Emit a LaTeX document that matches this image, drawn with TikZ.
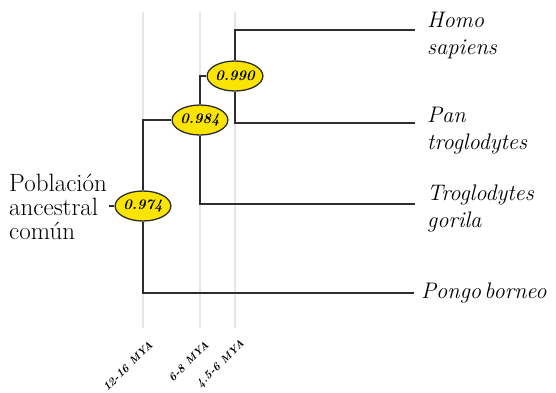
\documentclass[tikz,border=0pt]{standalone}
\usepackage{fontspec}
\usetikzlibrary{shapes.geometric,backgrounds}
\definecolor{nodeyellow}{RGB}{250,228,0}
\definecolor{treegray}{RGB}{45,45,45}
\definecolor{guidegray}{RGB}{230,230,230}
\tikzset{
  tree/.style={draw=treegray, line width=2pt},
  guide/.style={draw=guidegray, line width=1.5pt},
  prob/.style={ellipse, draw=treegray, line width=1.3pt, fill=nodeyellow,
    minimum width=43pt, minimum height=30pt, inner sep=0pt,
    font=\fontsize{14.5}{16}\selectfont\bfseries\itshape},
  leaf/.style={anchor=base west, inner sep=0pt,
    font=\fontsize{22.5}{27}\selectfont\itshape},
  mya/.style={anchor=east, rotate=45, inner sep=0pt,
    font=\fontsize{11.5}{14}\selectfont\bfseries\itshape}
}
\newcommand{\mycaps}{\fontsize{10.5}{12}\selectfont}
\begin{document}
\begin{tikzpicture}[x=1pt,y=-1pt]
\useasboundingbox (0,0) rectangle (556,392);
% internal nodes
\node[prob] (n974) at (143,206) {0.974};
\node[prob] (n984) at (200,120) {0.984};
\node[prob] (n990) at (235,76) {0.990};
% leaf labels
\node[leaf] (homo) at (427,27) {\begin{tabular}[t]{@{}l@{}}Homo\\sapiens\end{tabular}};
\node[leaf] (pan) at (427,122) {\begin{tabular}[t]{@{}l@{}}Pan\\troglodytes\end{tabular}};
\node[leaf] (gor) at (427,200) {\begin{tabular}[t]{@{}l@{}}Troglodytes\\gorila\end{tabular}};
\node[leaf] (pongo) at (421,298) {Pongo\hspace{0.15em}borneo};
% root label
\node[anchor=base west, inner sep=0pt, font=\fontsize{25}{22.7}\selectfont] (anc) at (9,191)
  {\begin{tabular}[t]{@{}l@{}}Población\\ancestral\\común\end{tabular}};
% line ends
\coordinate (hEnd) at (415,30);
\coordinate (ptEnd) at (415,123);
\coordinate (gEnd) at (415,204);
\coordinate (pEnd) at (414,293);
\coordinate (stub) at (109,206);
% guide lines
\coordinate (g1t) at (143,12); \coordinate (g1b) at (143,328);
\coordinate (g2t) at (200,12); \coordinate (g2b) at (200,328);
\coordinate (g3t) at (235,12); \coordinate (g3b) at (235,328);
\begin{scope}[on background layer]
  \draw[guide] (g1t) -- (g1b);
  \draw[guide] (g2t) -- (g2b);
  \draw[guide] (g3t) -- (g3b);
  \draw[tree] (stub) -- (n974);
  \draw[tree] (n984) -| (n974);
  \draw[tree] (n974) |- (pEnd);
  \draw[tree] (n984) |- (gEnd);
  \draw[tree] (n984) |- (n990);
  \draw[tree] (n990) |- (hEnd);
  \draw[tree] (n990) |- (ptEnd);
\end{scope}
% time labels
\node[mya] (t1) at (151,343) {12-16 {\mycaps MYA}};
\node[mya] (t2) at (207,343) {6-8 {\mycaps MYA}};
\node[mya] (t3) at (243,342) {4.5-6 {\mycaps MYA}};
\end{tikzpicture}
\end{document}
